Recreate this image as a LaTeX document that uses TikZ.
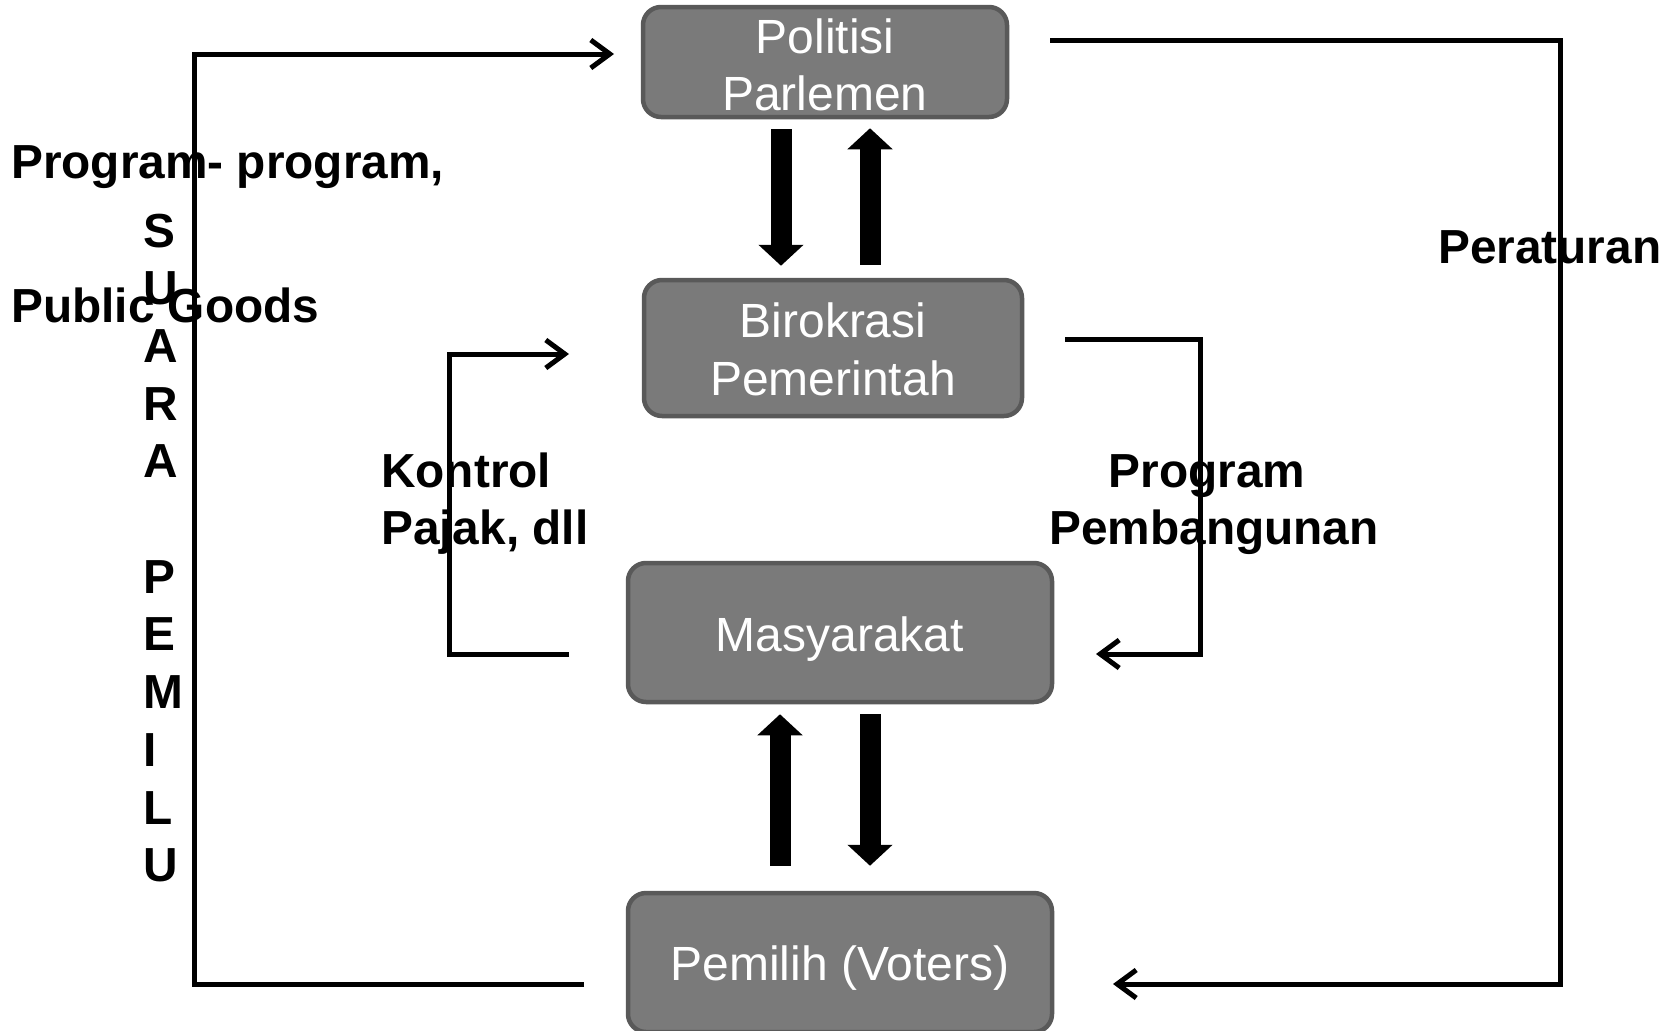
\documentclass[tikz,border=0pt]{standalone}
\usepackage{fontspec}
\setmainfont{Liberation Sans}
\usetikzlibrary{arrows.meta}
\definecolor{boxfill}{HTML}{7A7A7A}
\definecolor{boxline}{HTML}{595959}
\tikzset{
  box/.style={draw=boxline, fill=boxfill, line width=4.5pt, rounded corners=18pt, inner sep=0pt},
  wt/.style={text=white, inner sep=0pt, font=\fontsize{48}{57}\selectfont},
  bl/.style={text=black, inner sep=0pt, font=\bfseries\fontsize{47.8}{54}\selectfont},
  conn/.style={line width=5pt, -{Straight Barb[length=19pt,width=28pt]}},
  blk/.style={line width=21pt, -{Triangle[length=21pt,width=44pt]}}
}
\begin{document}
\begin{tikzpicture}[x=1pt,y=-1pt]
\useasboundingbox (0,0) rectangle (1674,1031);
\begin{scope}
\clip (0,0) rectangle (1674,1031);
% boxes
\node[box, minimum width=364pt, minimum height=110pt] (P) at (825,62) {};
\node[box, minimum width=378pt, minimum height=136pt] (B) at (833,348) {};
\node[box, minimum width=424pt, minimum height=139pt] (M) at (840,632.5) {};
\node[box, minimum width=424pt, minimum height=139pt] (V) at (840,962.5) {};
\end{scope}
% box texts
\node[wt, anchor=base] (Pt1) at (825,53) {Politisi};
\node[wt, anchor=base] (Pt2) at (825,110) {Parlemen};
\node[wt, anchor=base] (Bt1) at (833,337) {Birokrasi};
\node[wt, anchor=base] (Bt2) at (833,395) {Pemerintah};
\node[wt, anchor=base] (Mt) at (840,651) {Masyarakat};
\node[wt, anchor=base] (Vt) at (840,980) {Pemilih (Voters)};
% block arrows
\draw[blk] ([xshift=-44pt,yshift=-10pt]P.south) -- ([xshift=-52pt,yshift=12pt]B.north);
\draw[blk] ([xshift=37pt,yshift=13pt]B.north) -- ([xshift=45pt,yshift=-9pt]P.south);
\draw[blk] ([xshift=-60pt,yshift=25pt]V.north) -- ([xshift=-60pt,yshift=-10pt]M.south);
\draw[blk] ([xshift=30pt,yshift=-10pt]M.south) -- ([xshift=30pt,yshift=25pt]V.north);
% loop end points
\coordinate (la) at (584,984);
\coordinate (lb) at (194,54);
\coordinate (lc) at (614,54);
\coordinate (ra) at (1050,40.5);
\coordinate (rb) at (1560,984);
\coordinate (rc) at (1113,984);
\coordinate (pa) at (1065,339);
\coordinate (pb) at (1200,654);
\coordinate (pc) at (1096,654);
\coordinate (ka) at (569,654);
\coordinate (kb) at (449,354);
\coordinate (kc) at (569,354);
% loops
\draw[conn] (la) -| (lb) -- (lc);
\draw[conn] (ra) -| (rb) -- (rc);
\draw[conn] (pa) -| (pb) -- (pc);
\draw[conn] (ka) -| (kb) -- (kc);
% labels
\node[bl, anchor=base west] (lp1) at (11,178) {Program- program,};
\node[bl, anchor=base west] (lp2) at (11,322) {Public Goods};
\foreach \ch [count=\i] in {S,U,A,R,A,{},P,E,M,I,L,U}{
  \node[bl, anchor=base west] (su\i) at (143,{247+57.7*(\i-1)}) {\ch};
}
\node[bl, anchor=base west] (k1) at (381,487) {Kontrol};
\node[bl, anchor=base west] (k2) at (381,544) {Pajak, dll};
\node[bl, anchor=base] (pp1) at (1207,487) {Program};
\node[bl, anchor=base] (pp2) at (1214,544) {Pembangunan};
\node[bl, anchor=base west] (per) at (1438,263) {Peraturan};
\end{tikzpicture}
\end{document}
